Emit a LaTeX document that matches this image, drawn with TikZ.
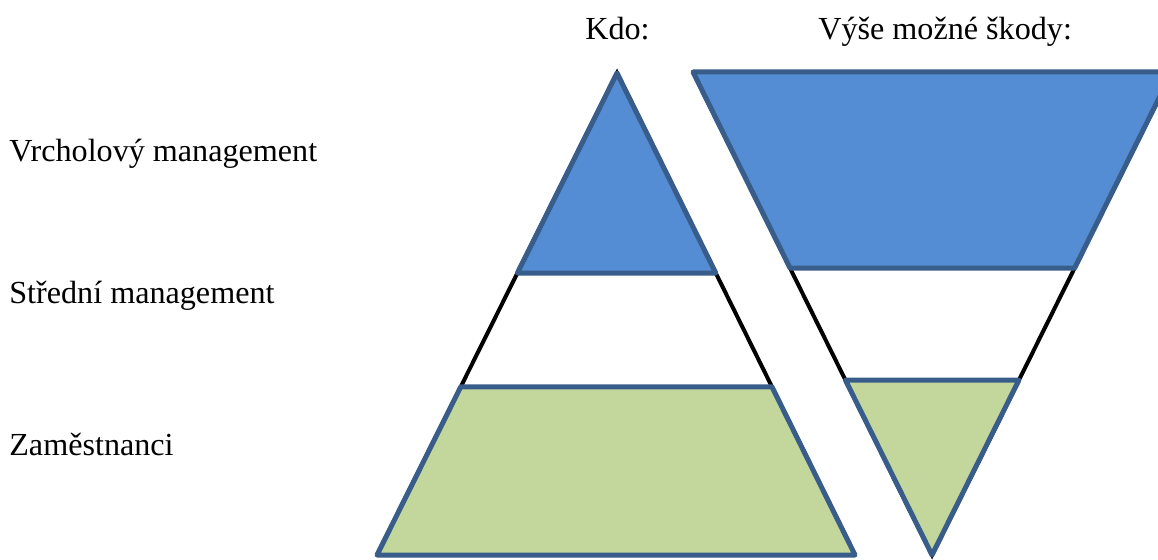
\documentclass[tikz,border=0pt]{standalone}
\usepackage{fontspec}
\setmainfont{Liberation Serif}
\usepackage{tikz}
\usetikzlibrary{calc}
\definecolor{bandblue}{RGB}{84,141,212}
\definecolor{bandgreen}{RGB}{195,214,155}
\definecolor{bandedge}{RGB}{56,93,138}

\begin{document}
\begin{tikzpicture}[x=0.02cm,y=-0.02cm,
  band/.style={draw=bandedge,line width=0.1cm,line join=round},
  topband/.style={band,fill=bandblue},
  lowband/.style={band,fill=bandgreen},
  sideline/.style={black,line width=0.08cm},
  lab/.style={anchor=base west,inner sep=0pt,font=\fontsize{18.3}{22}\selectfont}]
\clip (0,0) rectangle (1158,560);
% left pyramid (who) and right inverted pyramid (possible damage)
\coordinate (kTop) at (617,73);
\coordinate (kL) at (377,555);
\coordinate (kR) at (855,555);
\coordinate (sL) at (693,72);
\coordinate (sR) at (1172,72);
\coordinate (sBot) at (932,555);
\draw[sideline] (kL) -- (kTop) -- (kR);
\draw[sideline] (sL) -- (sBot) -- (sR);
% bands on top of the black outlines
\draw[topband] (kTop) -- ($(kTop)!0.415!(kR)$) -- ($(kTop)!0.415!(kL)$) -- cycle;
\draw[lowband] ($(kTop)!0.651!(kL)$) -- ($(kTop)!0.651!(kR)$) -- (kR) -- (kL) -- cycle;
\draw[topband] (sL) -- (sR) -- ($(sR)!0.406!(sBot)$) -- ($(sL)!0.406!(sBot)$) -- cycle;
\draw[lowband] ($(sL)!0.638!(sBot)$) -- ($(sR)!0.638!(sBot)$) -- (sBot) -- cycle;
% headings and level labels
\node[lab] (hKdo) at (585,40) {Kdo:};
\node[lab] (hSkody) at (818,40) {Výše možné škody:};
\node[lab] (lTop) at (9,162) {Vrcholový management};
\node[lab] (lMid) at (9,303) {Střední management};
\node[lab] (lLow) at (9,455) {Zaměstnanci};
\end{tikzpicture}
\end{document}
